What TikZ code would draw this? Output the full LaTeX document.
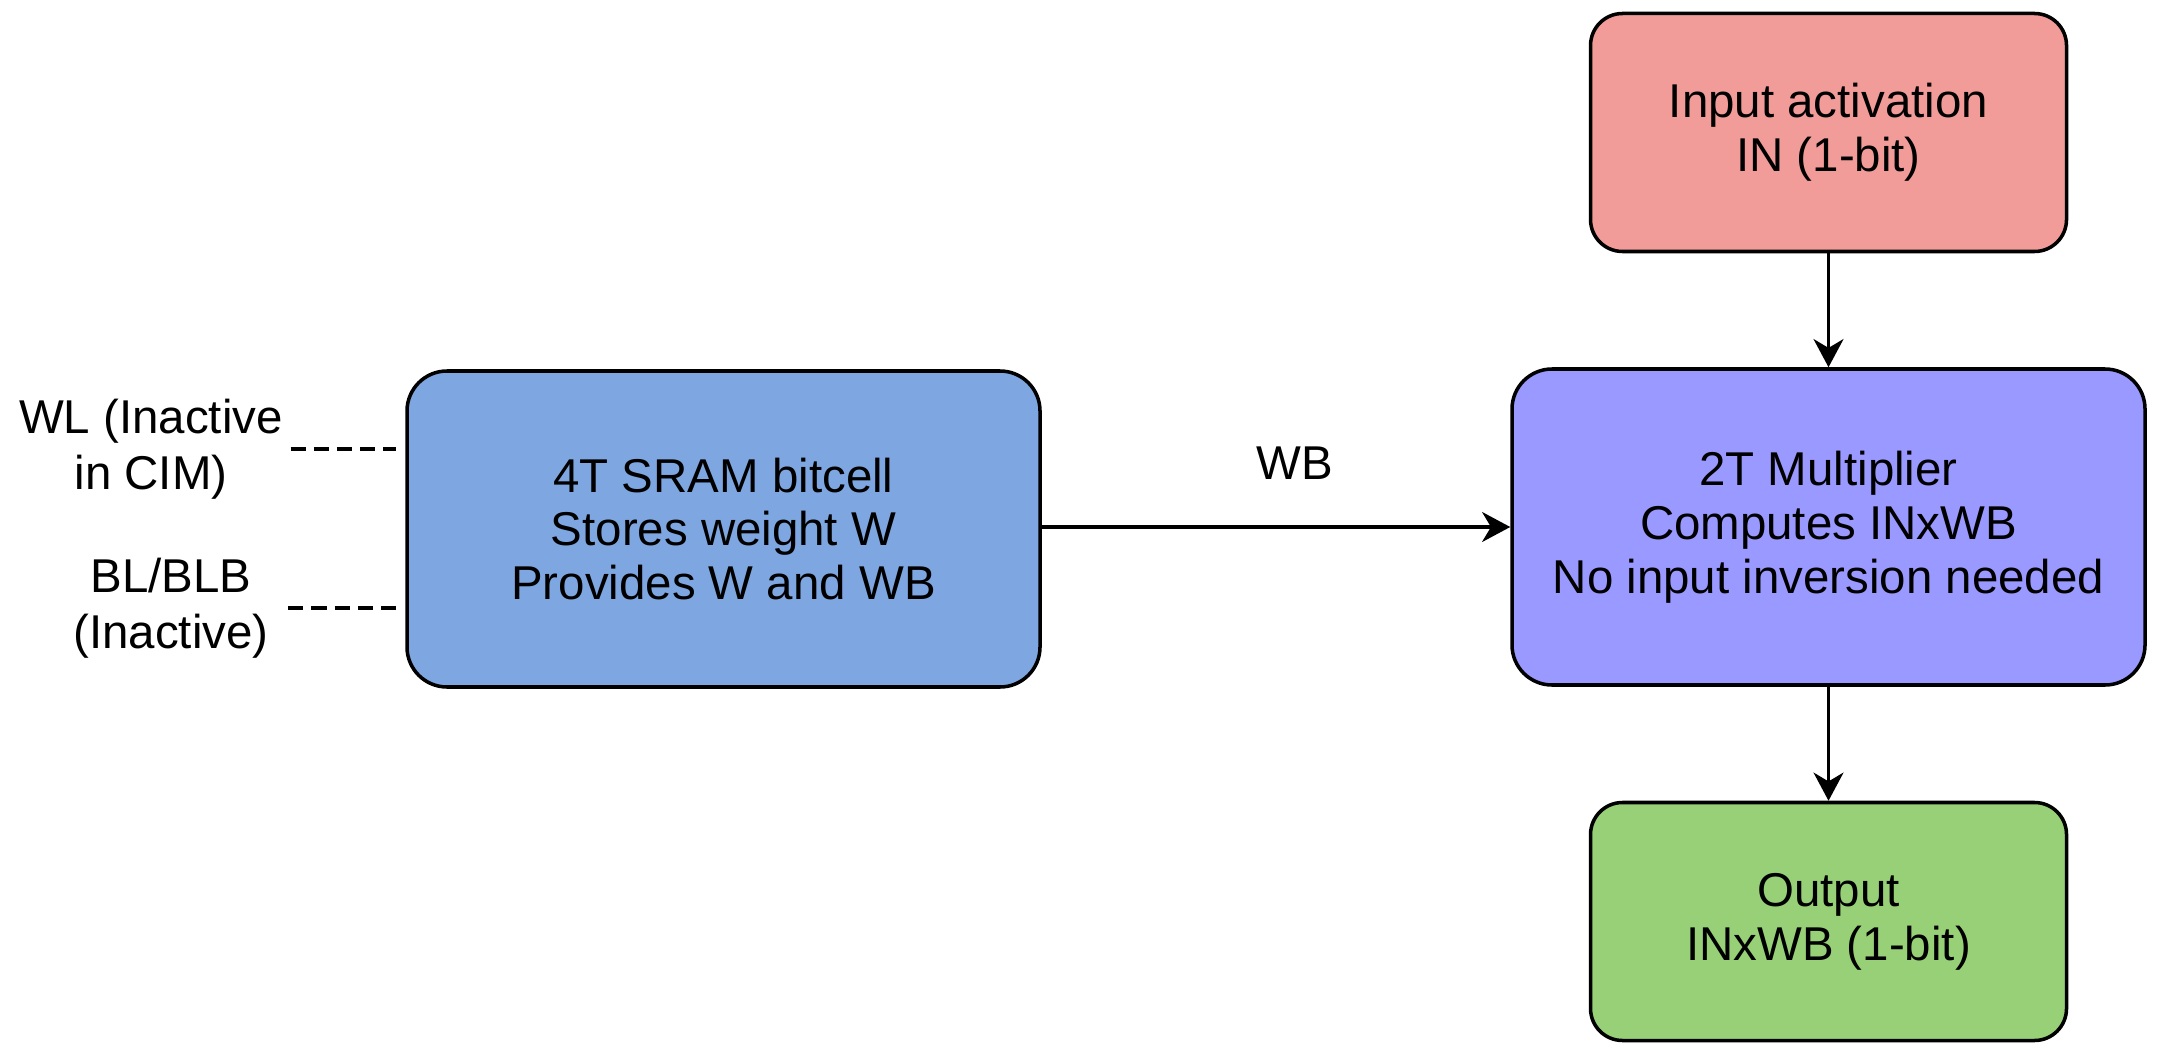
\documentclass[tikz,border=0pt]{standalone}
\usepackage{fontspec}
\setmainfont{Liberation Sans}
\usepackage{tikz}
\usetikzlibrary{positioning, arrows.meta}
\definecolor{sramblue}{HTML}{7EA6E0}
\definecolor{multviolet}{HTML}{9999FF}
\definecolor{inred}{HTML}{F19C99}
\definecolor{outgreen}{HTML}{97D077}

\begin{document}
\begin{tikzpicture}[
      blk/.style={draw, rounded corners=0.4cm, line width=1pt, align=center,
          font=\fontsize{13.5}{15.3}\selectfont, inner sep=0pt,
          minimum width=6.33cm, minimum height=3.16cm},
      io/.style={blk, rounded corners=0.32cm, minimum width=4.76cm, minimum height=2.38cm},
      sig/.style={align=center, font=\fontsize{13.5}{16}\selectfont, inner sep=2pt},
      arr/.style={-{Stealth[length=8pt, width=8.5pt, inset=2.5pt]}, line width=1pt},
      idle/.style={dash pattern=on 4.3pt off 2.3pt, line width=0.9pt},
    ]
    \useasboundingbox (0,0) rectangle (21.63,-10.57);

    % ---- Blocks (SRAM left, multiplier column right) ----
    \node[blk, fill=sramblue]   (SRAM) at (7.235, -5.29)  {4T SRAM bitcell\\Stores weight W\\Provides W and WB};
    \node[blk, fill=multviolet] (MUL)  at (18.285, -5.27) {2T Multiplier\\Computes INxWB\\No input inversion needed};
    \node[io, fill=inred]       (IN)   at (18.285, -1.325) {Input activation\\IN (1-bit)};
    \node[io, fill=outgreen]    (OUT)  at (18.285, -9.215) {Output\\INxWB (1-bit)};

    % ---- Inactive lines (LEFT) ----
    \node[sig] (WL) at (1.51, -4.49) {WL (Inactive\\in CIM)};
    \node[sig] (BL) at (1.71, -6.08) {BL/BLB\\(Inactive)};
    \draw[idle, shorten >=0.09cm] (WL.east) -- (WL.east -| SRAM.west);
    \draw[idle, shorten <=0.12cm, shorten >=0.09cm] (BL.east) -- (BL.east -| SRAM.west);

    % ---- Data flow ----
    \draw[arr] (SRAM.east |- MUL) -- node[above=0.46cm, pos=0.54, inner sep=0pt,
        font=\fontsize{13.5}{16}\selectfont] (WB) {WB} (MUL);
    \draw[arr] (IN) -- (MUL);
    \draw[arr] (MUL) -- (OUT);

  \end{tikzpicture}
\end{document}
